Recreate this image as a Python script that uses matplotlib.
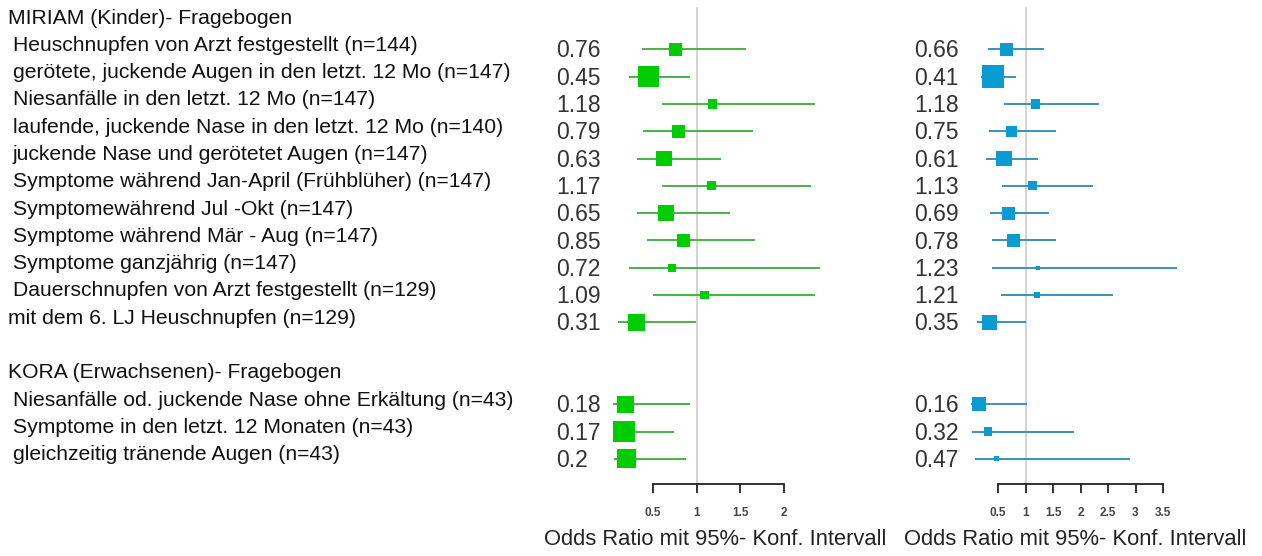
import numpy as np
import matplotlib.pyplot as plt
from matplotlib import transforms

plt.rcParams['font.family'] = ['Liberation Sans', 'DejaVu Sans']

# rows: group titles and items, "" = blank row
labels = ["MIRIAM (Kinder)- Fragebogen",
          " Heuschnupfen von Arzt festgestellt (n=144)",
          " gerötete, juckende Augen in den letzt. 12 Mo (n=147)",
          " Niesanfälle in den letzt. 12 Mo (n=147)",
          " laufende, juckende Nase in den letzt. 12 Mo (n=140)",
          " juckende Nase und gerötetet Augen (n=147)",
          " Symptome während Jan-April (Frühblüher) (n=147)",
          " Symptomewährend Jul -Okt (n=147)",
          " Symptome während Mär - Aug (n=147)",
          " Symptome ganzjährig (n=147)",
          " Dauerschnupfen von Arzt festgestellt (n=129)",
          "mit dem 6. LJ Heuschnupfen (n=129)",
          "",
          "KORA (Erwachsenen)- Fragebogen",
          " Niesanfälle od. juckende Nase ohne Erkältung (n=43)",
          " Symptome in den letzt. 12 Monaten (n=43)",
          " gleichzeitig tränende Augen (n=43)"]
data_rows = [1, 2, 3, 4, 5, 6, 7, 8, 9, 10, 11, 14, 15, 16]

left_or = [0.76, 0.45, 1.18, 0.79, 0.63, 1.17, 0.65, 0.85, 0.72, 1.09, 0.31, 0.18, 0.17, 0.2]
left_lo = [0.37, 0.22, 0.60, 0.39, 0.32, 0.60, 0.32, 0.43, 0.22, 0.50, 0.10, 0.04, 0.04, 0.05]
left_hi = [1.56, 0.92, 2.36, 1.64, 1.28, 2.31, 1.38, 1.67, 2.41, 2.36, 0.99, 0.92, 0.74, 0.88]
left_w = [12.7, 20.7, 9.3, 13, 15.7, 9, 15.7, 13, 8, 8.3, 17.3, 17, 21.7, 18.7]
left_txt = ["0.76", "0.45", "1.18", "0.79", "0.63", "1.17", "0.65", "0.85", "0.72",
            "1.09", "0.31", "0.18", "0.17", "0.2"]

right_or = [0.66, 0.41, 1.18, 0.75, 0.61, 1.13, 0.69, 0.78, 1.23, 1.21, 0.35, 0.16, 0.32, 0.47]
right_lo = [0.31, 0.19, 0.60, 0.34, 0.29, 0.57, 0.35, 0.39, 0.39, 0.55, 0.11, 0.01, 0.03, 0.08]
right_hi = [1.34, 0.82, 2.33, 1.55, 1.23, 2.22, 1.42, 1.55, 3.75, 2.59, 1.00, 1.03, 1.88, 2.90]
right_w = [12.7, 22.7, 9.7, 11.3, 15.3, 9.3, 13, 12.7, 4.3, 6.3, 15.3, 14.3, 8.3, 5.3]
right_txt = ["0.66", "0.41", "1.18", "0.75", "0.61", "1.13", "0.69", "0.78", "1.23",
             "1.21", "0.35", "0.16", "0.32", "0.47"]

left_ticks = [0.5, 1, 1.5, 2]
right_ticks = [0.5, 1, 1.5, 2, 2.5, 3, 3.5]

W, H = 1262, 556
fig = plt.figure(figsize=(W / 100, H / 100), dpi=100)

row_px = 27.3
row0_px = 22
bottom_px = 484
ylim = ((bottom_px - row0_px) / row_px, -row0_px / row_px)
px2pt = 72 / 100


def panel(x0, x1, xlim, ors, los, his, ws, txts, ticks, box_col, line_col, txt_x):
    ax = fig.add_axes([x0 / W, 1 - bottom_px / H, (x1 - x0) / W, bottom_px / H])
    ax.set_xlim(xlim)
    ax.set_ylim(ylim)
    ax.axvline(1, ymax=1 - 8 / bottom_px, color='#d0d0d0', lw=1.3, zorder=0)
    ax.hlines(data_rows, los, his, color=line_col, lw=1.3, zorder=2)
    ax.scatter(ors, data_rows, marker='s', s=(np.array(ws) * px2pt) ** 2,
               color=box_col, linewidths=0, zorder=3)
    tr = transforms.blended_transform_factory(fig.transFigure, ax.transData)
    for r, t in zip(data_rows, txts):
        ax.text(txt_x / W, r + 0.06, t, transform=tr, fontsize=16.5,
                color='#333333', va='center', ha='left')
    for s in ['top', 'right', 'left']:
        ax.spines[s].set_visible(False)
    ax.spines['bottom'].set_bounds(ticks[0], ticks[-1])
    ax.spines['bottom'].set_linewidth(1.3)
    ax.spines['bottom'].set_color('#222222')
    ax.set_xticks(ticks)
    ax.set_xticklabels([f"{t:g}" for t in ticks], fontweight='bold')
    ax.tick_params(axis='x', length=6.5, width=1.3, color='#222222',
                   labelsize=8.5, labelcolor='#444444', pad=10)
    ax.set_yticks([])
    ax.set_xlabel("Odds Ratio mit 95%- Konf. Intervall", fontsize=15.8,
                  color='#222222', labelpad=7)
    ax.patch.set_visible(False)
    return ax


panel(600, 830, (0.5 + (600 - 653) / 87.3, 0.5 + (830 - 653) / 87.3),
      left_or, left_lo, left_hi, left_w, left_txt, left_ticks,
      '#00cc00', '#3aad3a', 556)
panel(960, 1190, (0.5 + (960 - 998) / 55.0, 0.5 + (1190 - 998) / 55.0),
      right_or, right_lo, right_hi, right_w, right_txt, right_ticks,
      '#0a9bd0', '#2a8ab0', 914)

for i, lab in enumerate(labels):
    if not lab:
        continue
    x = 13 if lab.startswith(" ") else 8
    y = 1 - (row0_px + i * row_px - 4) / H
    fig.text(x / W, y, lab.strip(), fontsize=15.2, color='#111111',
             va='center', ha='left')

fig.savefig('out.png', dpi=100)
